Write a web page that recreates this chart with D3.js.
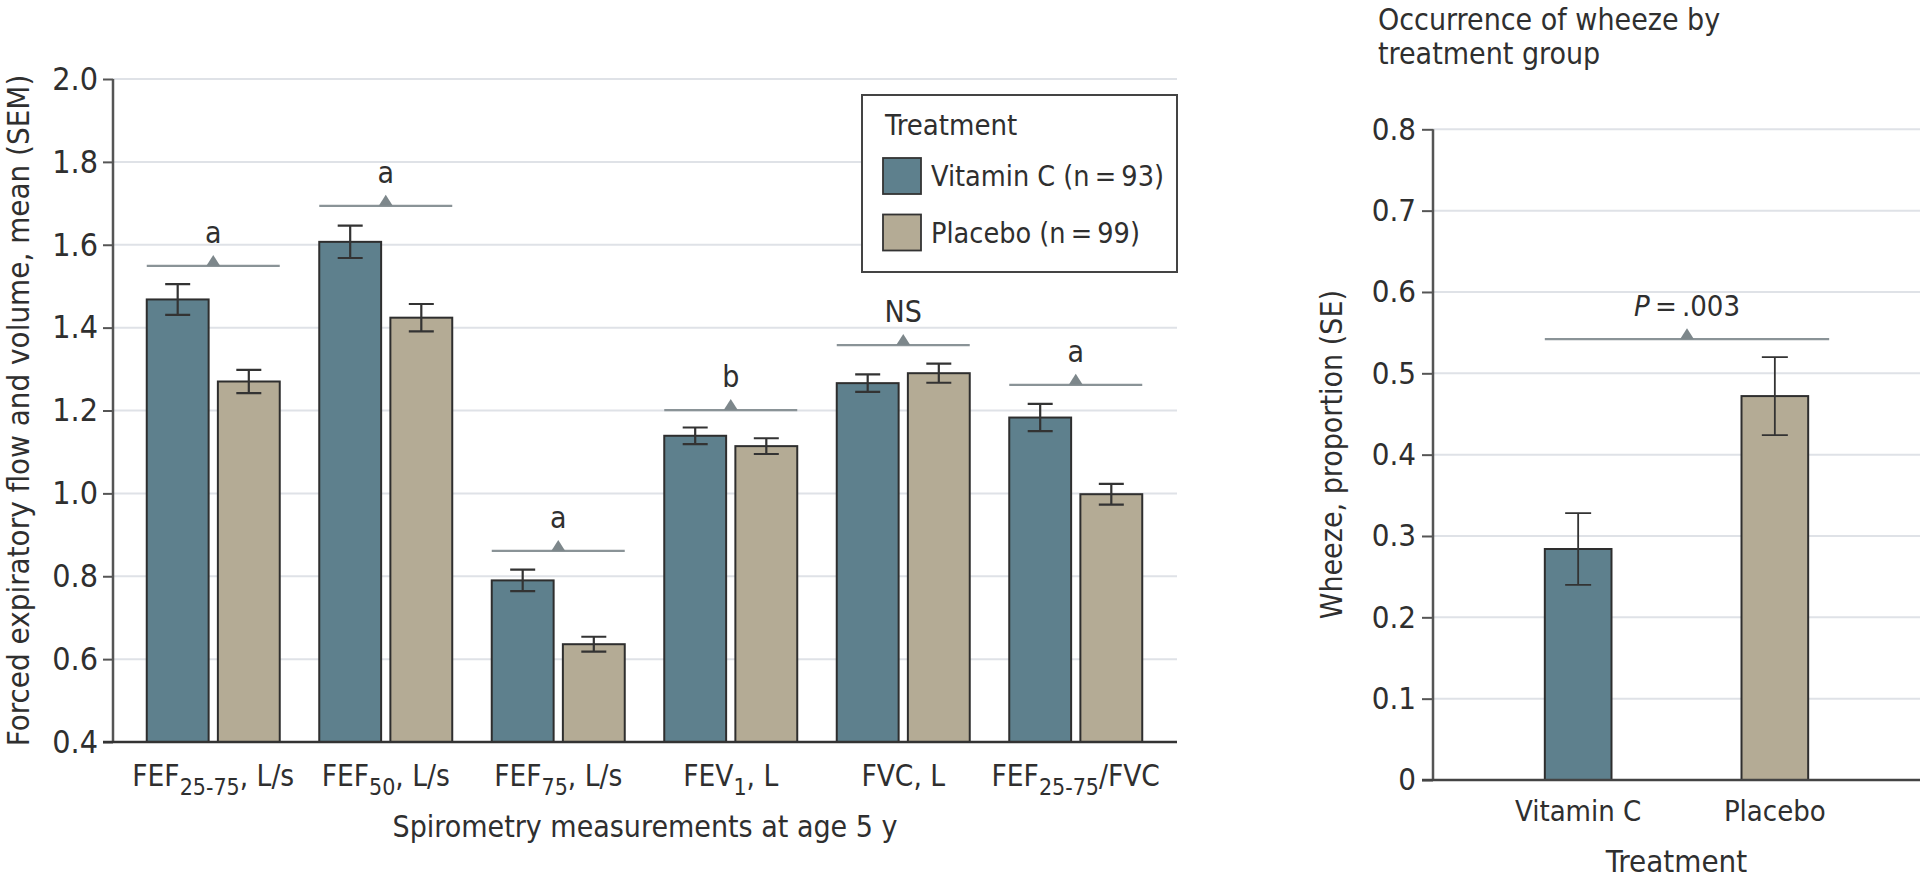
<!DOCTYPE html>
<html>
<head>
<meta charset="utf-8">
<script src="https://cdn.jsdelivr.net/npm/d3@7"></script>
<style>
  html, body { margin: 0; padding: 0; background: #fff; }
  svg { display: block; }
  text { font-family: "Liberation Sans Narrow", "DejaVu Sans Condensed", "Noto Sans", sans-serif; fill: #2f2f2f; }
</style>
</head>
<body>
<script>
// ---------- DATA ----------
const categoryMain = ["FEF", "FEF", "FEF", "FEV", "FVC, L", "FEF"];
const categorySub  = ["25-75", "50", "75", "1", "", "25-75"];
const categoryTail = [", L/s", ", L/s", ", L/s", ", L", "", "/FVC"];
const seriesNames = ["Vitamin C (n\u2009=\u200993)", "Placebo (n\u2009=\u200999)"];
const vitaminC    = [1.468, 1.607, 0.790, 1.139, 1.266, 1.183];
const vitaminCSem = [0.037, 0.039, 0.026, 0.020, 0.021, 0.033];
const placebo     = [1.270, 1.424, 0.636, 1.114, 1.290, 0.998];
const placeboSem  = [0.028, 0.033, 0.018, 0.019, 0.023, 0.025];
const sigLabels   = ["a", "a", "a", "b", "NS", "a"];
const sigLevels   = [1.549, 1.694, 0.861, 1.201, 1.358, 1.262];
const leftTicks   = [0.4, 0.6, 0.8, 1.0, 1.2, 1.4, 1.6, 1.8, 2.0];

const wheezeGroups = ["Vitamin C", "Placebo"];
const wheeze       = [0.284, 0.472];
const wheezeSe     = [0.044, 0.048];
const wheezePLevel = 0.542;
const rightTicks   = [0, 0.1, 0.2, 0.3, 0.4, 0.5, 0.6, 0.7, 0.8];

// ---------- STYLE ----------
const colVit = "#5e808d", colPla = "#b4ab95";
const barStroke = "#2e2e2e", gridCol = "#dfe2e7", axisCol = "#555", sigCol = "#8a9397";
const FONT = '"Liberation Sans Narrow", "DejaVu Sans Condensed", sans-serif';

const svg = d3.select("body").append("svg").attr("width", 1920).attr("height", 879);

// ================= LEFT CHART =================
const L = { x0: 113, x1: 1177, yTop: 79, yBot: 742 };
const yL = d3.scaleLinear().domain([0.4, 2.0]).range([L.yBot, L.yTop]);
const xG = d3.scaleBand().domain(d3.range(categoryMain.length)).range([127, 1162]).paddingInner(0.229).paddingOuter(0.1145);
const xS = d3.scaleBand().domain([0, 1]).range([0, xG.bandwidth()]).paddingInner(0.13);

const gL = svg.append("g");
gL.append("g").selectAll("line").data(leftTicks.slice(1)).join("line")
  .attr("x1", L.x0).attr("x2", L.x1).attr("y1", d => yL(d)).attr("y2", d => yL(d))
  .attr("stroke", gridCol).attr("stroke-width", 2);

const axL = gL.append("g").attr("transform", `translate(${L.x0},0)`)
  .call(d3.axisLeft(yL).tickValues(leftTicks).tickFormat(d3.format(".1f")).tickSize(10).tickPadding(5));
axL.select(".domain").attr("stroke", axisCol).attr("stroke-width", 2.5).attr("d", `M0,${L.yBot}V${L.yTop}`);
axL.selectAll(".tick line").attr("stroke", axisCol).attr("stroke-width", 2);
axL.selectAll(".tick text").attr("font-size", 32).attr("fill", "#2f2f2f").style("font-family", FONT);

const groups = gL.append("g").selectAll("g").data(d3.range(categoryMain.length)).join("g")
  .attr("transform", i => `translate(${xG(i)},0)`);
const vals = [vitaminC, placebo], sems = [vitaminCSem, placeboSem], cols = [colVit, colPla];
[0, 1].forEach(s => {
  groups.append("rect")
    .attr("x", xS(s)).attr("width", xS.bandwidth())
    .attr("y", i => yL(vals[s][i])).attr("height", i => yL(0.4) - yL(vals[s][i]))
    .attr("fill", cols[s]).attr("stroke", barStroke).attr("stroke-width", 2);
  const cx = xS(s) + xS.bandwidth() / 2;
  groups.append("path")
    .attr("d", i => {
      const t = yL(vals[s][i] + sems[s][i]), b = yL(vals[s][i] - sems[s][i]);
      return `M${cx - 12.5},${t}H${cx + 12.5}M${cx},${t}V${b}M${cx - 12.5},${b}H${cx + 12.5}`;
    })
    .attr("stroke", "#333").attr("stroke-width", 2.2).attr("fill", "none");
});

groups.append("line")
  .attr("x1", 0).attr("x2", xG.bandwidth())
  .attr("y1", i => yL(sigLevels[i])).attr("y2", i => yL(sigLevels[i]))
  .attr("stroke", sigCol).attr("stroke-width", 2.2);
groups.append("path")
  .attr("d", i => { const c = xG.bandwidth() / 2, y = yL(sigLevels[i]); return `M${c - 7},${y}L${c},${y - 11}L${c + 7},${y}Z`; })
  .attr("fill", "#7d878b");
groups.append("text")
  .attr("x", xG.bandwidth() / 2).attr("y", i => yL(sigLevels[i]) - 23)
  .attr("text-anchor", "middle").attr("font-size", 30)
  .text(i => sigLabels[i]);

gL.append("line").attr("x1", L.x0 - 10).attr("x2", L.x1).attr("y1", L.yBot).attr("y2", L.yBot)
  .attr("stroke", "#333").attr("stroke-width", 2.5);

const catText = groups.append("text")
  .attr("x", xG.bandwidth() / 2).attr("y", 786).attr("text-anchor", "middle").attr("font-size", 29.5);
catText.append("tspan").text(i => categoryMain[i]);
catText.append("tspan").attr("font-size", 23).attr("dy", 9).text(i => categorySub[i]);
catText.append("tspan").attr("dy", i => categorySub[i] ? -9 : 0).text(i => categoryTail[i]);

gL.append("text").attr("x", (L.x0 + L.x1) / 2).attr("y", 837).attr("text-anchor", "middle")
  .attr("font-size", 30).text("Spirometry measurements at age 5 y");
gL.append("text").attr("transform", `translate(29,${(L.yTop + L.yBot) / 2}) rotate(-90)`)
  .attr("text-anchor", "middle").attr("font-size", 31)
  .text("Forced expiratory flow and volume, mean (SEM)");

const lg = gL.append("g").attr("transform", "translate(862,95)");
lg.append("rect").attr("width", 315).attr("height", 177).attr("fill", "#fff").attr("stroke", "#444").attr("stroke-width", 2);
lg.append("text").attr("x", 23).attr("y", 40).attr("font-size", 29).text("Treatment");
seriesNames.forEach((n, k) => {
  lg.append("rect").attr("x", 21).attr("y", 63 + k * 56.5).attr("width", 38).attr("height", 36)
    .attr("fill", cols[k]).attr("stroke", "#333").attr("stroke-width", 1.8);
  lg.append("text").attr("x", 69).attr("y", 91 + k * 57).attr("font-size", 28.5).text(n);
});

// ================= RIGHT CHART =================
const R = { x0: 1433, x1: 1920, yTop: 129.3, yBot: 780 };
const yR = d3.scaleLinear().domain([0, 0.8]).range([R.yBot, R.yTop]);
const xR = d3.scaleBand().domain(wheezeGroups).range([R.x0, R.x1]).paddingInner(0.661).paddingOuter(0.5685);

const gR = svg.append("g");
gR.append("g").selectAll("line").data(rightTicks.slice(1)).join("line")
  .attr("x1", R.x0).attr("x2", R.x1).attr("y1", d => yR(d)).attr("y2", d => yR(d))
  .attr("stroke", gridCol).attr("stroke-width", 2);

const axR = gR.append("g").attr("transform", `translate(${R.x0},0)`)
  .call(d3.axisLeft(yR).tickValues(rightTicks).tickFormat(d => d === 0 ? "0" : d3.format(".1f")(d)).tickSize(11).tickPadding(6));
axR.select(".domain").attr("stroke", axisCol).attr("stroke-width", 2.5).attr("d", `M0,${R.yBot}V${R.yTop}`);
axR.selectAll(".tick line").attr("stroke", axisCol).attr("stroke-width", 2);
axR.selectAll(".tick text").attr("font-size", 31).attr("fill", "#2f2f2f").style("font-family", FONT);

const wcol = [colVit, colPla];
gR.append("g").selectAll("rect").data(wheezeGroups).join("rect")
  .attr("x", d => xR(d)).attr("width", xR.bandwidth())
  .attr("y", (d, i) => yR(wheeze[i])).attr("height", (d, i) => yR(0) - yR(wheeze[i]))
  .attr("fill", (d, i) => wcol[i]).attr("stroke", barStroke).attr("stroke-width", 2);
gR.append("g").selectAll("path").data(wheezeGroups).join("path")
  .attr("d", (d, i) => {
    const cx = xR(d) + xR.bandwidth() / 2, t = yR(wheeze[i] + wheezeSe[i]), b = yR(wheeze[i] - wheezeSe[i]);
    return `M${cx - 13},${t}H${cx + 13}M${cx},${t}V${b}M${cx - 13},${b}H${cx + 13}`;
  })
  .attr("stroke", "#333").attr("stroke-width", 1.8).attr("fill", "none");

gR.append("line").attr("x1", R.x0 - 11).attr("x2", R.x1).attr("y1", R.yBot).attr("y2", R.yBot)
  .attr("stroke", "#444").attr("stroke-width", 2.5);

const pX0 = xR(wheezeGroups[0]), pX1 = xR(wheezeGroups[1]) + xR.bandwidth() + 21, pC = (pX0 + pX1) / 2;
gR.append("line").attr("x1", pX0).attr("x2", pX1).attr("y1", yR(wheezePLevel)).attr("y2", yR(wheezePLevel))
  .attr("stroke", sigCol).attr("stroke-width", 2.2);
gR.append("path").attr("d", `M${pC - 7},${yR(wheezePLevel)}L${pC},${yR(wheezePLevel) - 11}L${pC + 7},${yR(wheezePLevel)}Z`).attr("fill", "#7d878b");
const pt = gR.append("text").attr("x", pC).attr("y", yR(wheezePLevel) - 23).attr("text-anchor", "middle").attr("font-size", 29);
pt.append("tspan").attr("font-style", "italic").text("P");
pt.append("tspan").text("\u2009=\u2009.003");

gR.append("g").selectAll("text").data(wheezeGroups).join("text")
  .attr("x", d => xR(d) + xR.bandwidth() / 2).attr("y", 821).attr("text-anchor", "middle").attr("font-size", 29)
  .text(d => d);
gR.append("text").attr("x", (R.x0 + R.x1) / 2).attr("y", 872).attr("text-anchor", "middle").attr("font-size", 31).text("Treatment");
gR.append("text").attr("transform", `translate(1342,${(R.yTop + R.yBot) / 2}) rotate(-90)`)
  .attr("text-anchor", "middle").attr("font-size", 30).text("Wheeze, proportion (SE)");

const tt = gR.append("text").attr("x", 1378).attr("font-size", 30);
tt.append("tspan").attr("x", 1378).attr("y", 30).text("Occurrence of wheeze by");
tt.append("tspan").attr("x", 1378).attr("y", 64).text("treatment group");
</script>
</body>
</html>
